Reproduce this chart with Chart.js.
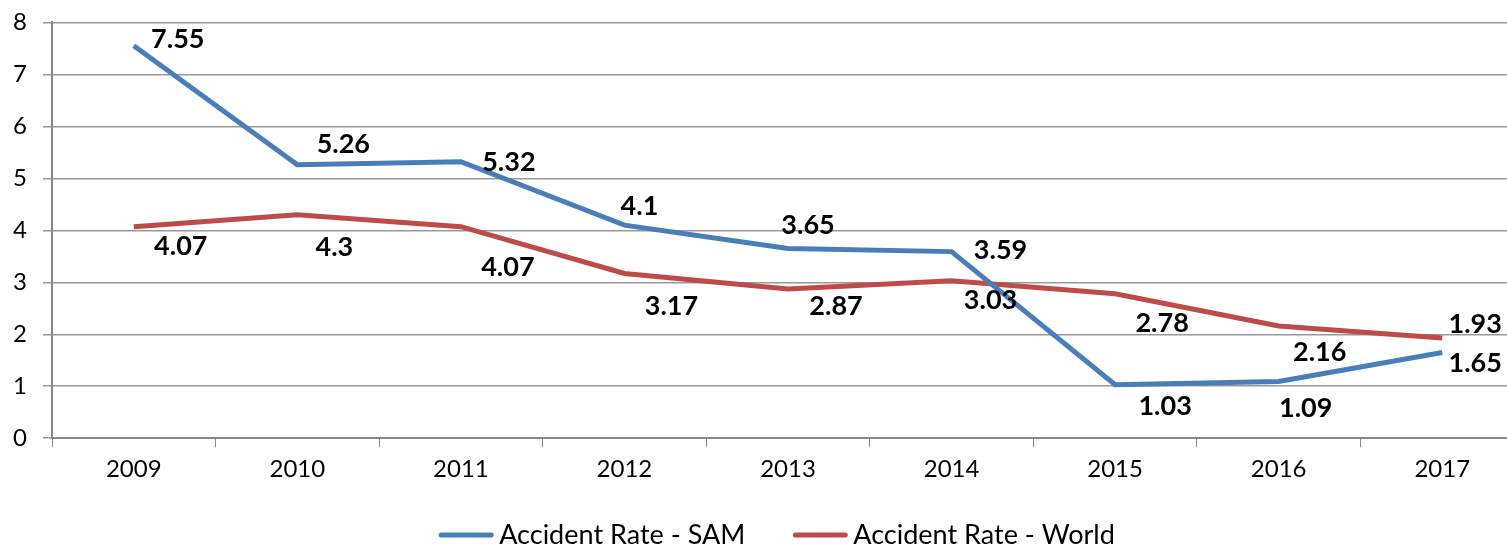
<!DOCTYPE html>
<html>
<head>
<meta charset="utf-8">
<script src="https://cdn.jsdelivr.net/npm/chart.js@4.4.0/dist/chart.umd.min.js"></script>
<style>
  html, body { margin: 0; padding: 0; background: #fff; overflow: hidden; }
  #wrap { width: 1530px; height: 558px; margin-top: -8px; }
</style>
</head>
<body>
<div id="wrap"><canvas id="grafico"></canvas></div>
<script>
// datos
var anios = ["2009", "2010", "2011", "2012", "2013", "2014", "2015", "2016", "2017"];
var tasaSAM = [7.55, 5.26, 5.32, 4.1, 3.65, 3.59, 1.03, 1.09, 1.65];
var tasaMundo = [4.07, 4.3, 4.07, 3.17, 2.87, 3.03, 2.78, 2.16, 1.93];
var ticksY = [0, 1, 2, 3, 4, 5, 6, 7, 8];

// desplazamiento de las etiquetas (px)
var despSAM = [[44, -6], [46, -21], [48, 1], [15, -19], [20, -23], [49, -1], [50, 22], [27, 27], [33, 11]];
var despMundo = [[47, 20], [37, 33], [47, 41], [47, 33], [48, 17], [39, 20], [47, 30], [41, 26], [33, -14]];

var fuente = "Lato, 'Open Sans', sans-serif";

var etiquetas = {
    id: 'etiquetas',
    afterDatasetsDraw: function(chart) {
        var ctx = chart.ctx;
        var desps = [despSAM, despMundo];
        ctx.save();
        ctx.font = "bold 27px " + fuente;
        ctx.fillStyle = "#000";
        ctx.textAlign = "center";
        ctx.textBaseline = "middle";
        chart.data.datasets.forEach(function(ds, i) {
            var meta = chart.getDatasetMeta(i);
            meta.data.forEach(function(p, j) {
                ctx.fillText(String(ds.data[j]), p.x + desps[i][j][0], p.y + desps[i][j][1]);
            });
        });
        ctx.restore();
    }
};

// leyenda dibujada a mano (linea + texto)
var leyenda = {
    id: 'leyenda',
    afterDraw: function(chart) {
        var ctx = chart.ctx;
        var ds = chart.data.datasets;
        var largo = 54, hueco = 6, sep = 48;
        ctx.save();
        ctx.font = "27px " + fuente;
        var total = 0;
        ds.forEach(function(d, i) {
            total += largo + hueco + ctx.measureText(d.label).width;
            if (i > 0) total += sep;
        });
        var x = chart.width / 2 + 12 - total / 2;
        var y = 543;
        ds.forEach(function(d) {
            ctx.strokeStyle = d.borderColor;
            ctx.lineWidth = 5;
            ctx.lineCap = "round";
            ctx.beginPath();
            ctx.moveTo(x + 2, y);
            ctx.lineTo(x + largo - 2, y);
            ctx.stroke();
            ctx.fillStyle = "#000";
            ctx.textBaseline = "middle";
            ctx.textAlign = "left";
            ctx.fillText(d.label, x + largo + hueco, y);
            x += largo + hueco + ctx.measureText(d.label).width + sep;
        });
        ctx.restore();
    }
};

var grafico = new Chart(document.getElementById("grafico"), {
    type: 'line',
    data: {
        labels: anios,
        datasets: [
            {
                label: "Accident Rate - SAM",
                data: tasaSAM,
                borderColor: "#4A7EBB",
                backgroundColor: "#4A7EBB",
                borderWidth: 5,
                pointRadius: 0,
                tension: 0
            },
            {
                label: "Accident Rate - World",
                data: tasaMundo,
                borderColor: "#BE4B48",
                backgroundColor: "#BE4B48",
                borderWidth: 5,
                pointRadius: 0,
                tension: 0
            }
        ]
    },
    options: {
        responsive: true,
        maintainAspectRatio: false,
        animation: false,
        layout: { padding: { top: 0, right: 6, left: 0, bottom: 58 } },
        plugins: {
            tooltip: { enabled: false },
            legend: { display: false }
        },
        scales: {
            x: {
                offset: true,
                grid: {
                    offset: true,
                    drawOnChartArea: false,
                    tickLength: 9,
                    color: "#888"
                },
                border: { color: "#888", width: 2 },
                ticks: {
                    color: "#000",
                    font: { size: 24, family: fuente },
                    padding: 8
                }
            },
            y: {
                min: 0,
                max: 8,
                afterFit: function(escala) { escala.width = 52; },
                afterBuildTicks: function(escala) {
                    escala.ticks = ticksY.map(function(v) { return { value: v }; });
                },
                grid: {
                    color: "#999",
                    lineWidth: 1.5,
                    tickLength: 9
                },
                border: { color: "#888", width: 2 },
                ticks: {
                    color: "#000",
                    font: { size: 24, family: fuente },
                    padding: 16
                }
            }
        }
    },
    plugins: [etiquetas, leyenda]
});
</script>
</body>
</html>
